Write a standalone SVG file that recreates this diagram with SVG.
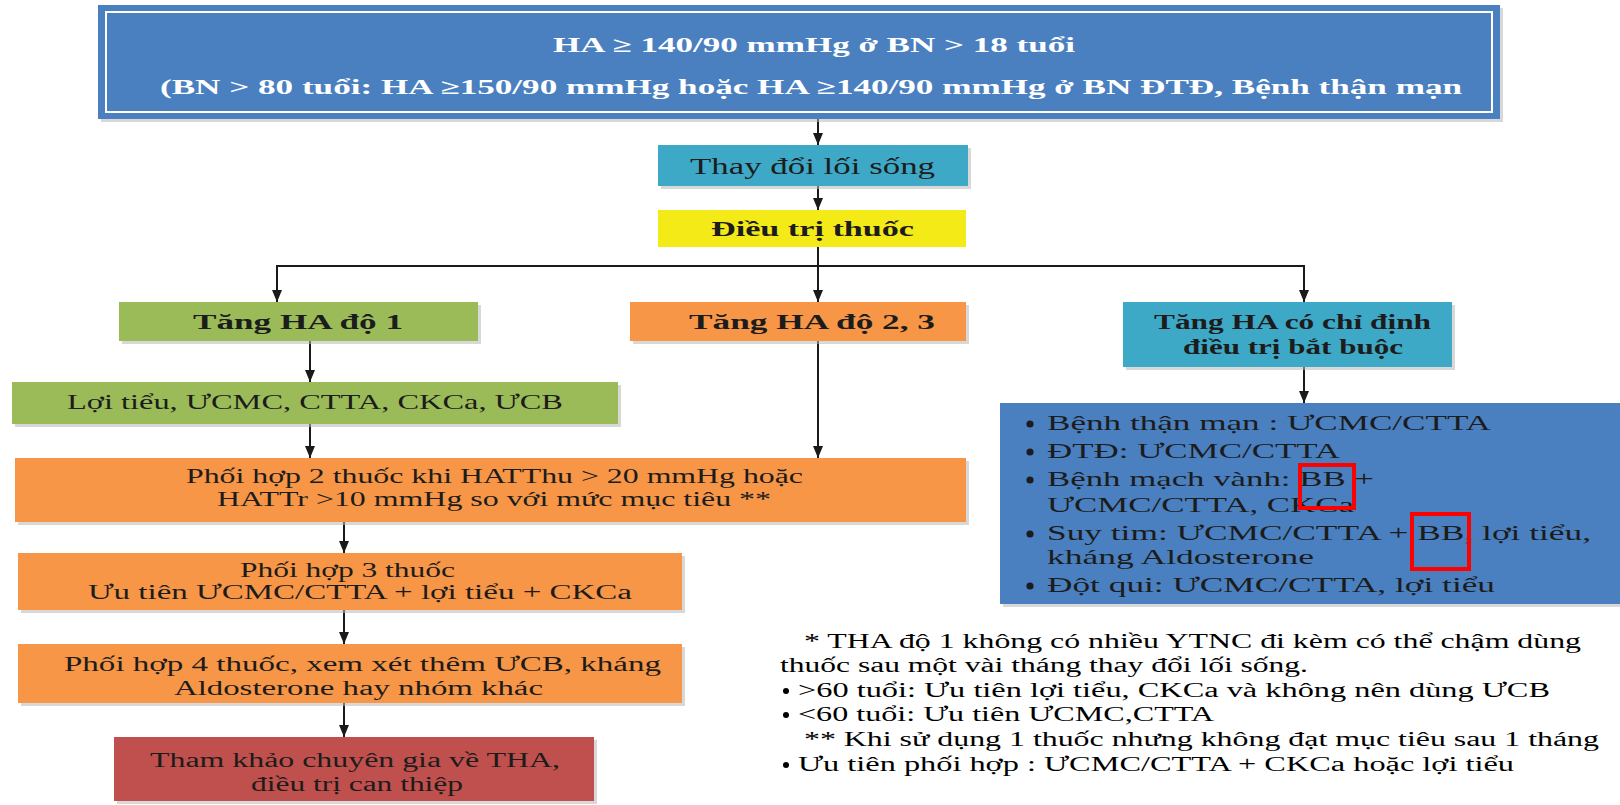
<svg xmlns="http://www.w3.org/2000/svg" width="1620" height="805" viewBox="0 0 1620 805">
<defs>
<marker id="ah" viewBox="0 0 12 10" refX="12" refY="5" markerWidth="12" markerHeight="10" markerUnits="userSpaceOnUse" orient="auto">
<path d="M0,0 L12,5 L0,10 z" fill="#1a1a1a"/>
</marker>
</defs>
<style>
.t{font-family:"Liberation Serif","Times New Roman",serif;}
.b{font-weight:bold;}
.w{fill:#ffffff;}
.d{fill:#1c1c1c;}
.k{fill:#000000;}
.sh{fill:#b8b8b8;opacity:0.55;}
.c{stroke:#1a1a1a;stroke-width:2;fill:none;}
.rb{fill:none;stroke:#ff0000;stroke-width:4;}
.dot{fill:#1c1c1c;}
</style>
<rect width="1620" height="805" fill="#ffffff"/>

<g id="connectors">
<line class="c" x1="818" y1="119" x2="818" y2="145" marker-end="url(#ah)"/>
<line class="c" x1="818" y1="186" x2="818" y2="210" marker-end="url(#ah)"/>
<line class="c" x1="818" y1="247" x2="818" y2="302" marker-end="url(#ah)"/>
<polyline class="c" points="277,302 277,266 1304,266 1304,302" marker-end="url(#ah)"/>
<line class="c" x1="277" y1="266" x2="277" y2="302" marker-end="url(#ah)"/>
<line class="c" x1="310" y1="341" x2="310" y2="382" marker-end="url(#ah)"/>
<line class="c" x1="310" y1="424" x2="310" y2="458" marker-end="url(#ah)"/>
<line class="c" x1="818" y1="341" x2="818" y2="458" marker-end="url(#ah)"/>
<line class="c" x1="344" y1="522" x2="344" y2="553" marker-end="url(#ah)"/>
<line class="c" x1="344" y1="610" x2="344" y2="644" marker-end="url(#ah)"/>
<line class="c" x1="344" y1="703" x2="344" y2="737" marker-end="url(#ah)"/>
<line class="c" x1="1304" y1="367" x2="1304" y2="403" marker-end="url(#ah)"/>
</g>

<g id="n-top">
<rect class="sh" x="101" y="8" width="1402" height="114"/>
<rect x="98" y="5" width="1402" height="114" fill="#4a80c0"/>
<rect x="106" y="12" width="1386" height="100" fill="none" stroke="#ffffff" stroke-width="2"/>
<text class="t b w" x="553" y="52" font-size="21" textLength="522" lengthAdjust="spacingAndGlyphs">HA ≥ 140/90 mmHg ở BN &gt; 18 tuổi</text>
<text class="t b w" x="160" y="94" font-size="21" textLength="1302" lengthAdjust="spacingAndGlyphs">(BN &gt; 80 tuổi: HA ≥150/90 mmHg hoặc HA ≥140/90 mmHg ở BN ĐTĐ, Bệnh thận mạn</text>
</g>

<g id="n-lifestyle">
<rect class="sh" x="661" y="148" width="310" height="41"/>
<rect x="658" y="145" width="310" height="41" fill="#3ea9c6"/>
<text class="t d" x="690" y="174" font-size="24" textLength="245" lengthAdjust="spacingAndGlyphs">Thay đổi lối sống</text>
</g>

<g id="n-drug">
<rect x="658" y="210" width="308" height="37" fill="#f3ea17"/>
<text class="t b d" x="711" y="236" font-size="22" textLength="203" lengthAdjust="spacingAndGlyphs">Điều trị thuốc</text>
</g>

<g id="n-grade1">
<rect class="sh" x="122" y="305" width="359" height="39"/>
<rect x="119" y="302" width="359" height="39" fill="#9bbb59"/>
<text class="t b d" x="193" y="329" font-size="22" textLength="210" lengthAdjust="spacingAndGlyphs">Tăng HA độ 1</text>
</g>

<g id="n-grade23">
<rect class="sh" x="633" y="305" width="336" height="39"/>
<rect x="630" y="302" width="336" height="39" fill="#f79646"/>
<text class="t b d" x="689" y="329" font-size="22" textLength="246" lengthAdjust="spacingAndGlyphs">Tăng HA độ 2, 3</text>
</g>

<g id="n-compelling">
<rect class="sh" x="1126" y="305" width="329" height="65"/>
<rect x="1123" y="302" width="329" height="65" fill="#3ea9c6"/>
<text class="t b d" x="1154" y="329" font-size="22" textLength="277" lengthAdjust="spacingAndGlyphs">Tăng HA có chỉ định</text>
<text class="t b d" x="1183" y="354" font-size="22" textLength="220" lengthAdjust="spacingAndGlyphs">điều trị bắt buộc</text>
</g>

<g id="n-mono">
<rect class="sh" x="15" y="385" width="606" height="42"/>
<rect x="12" y="382" width="606" height="42" fill="#9bbb59"/>
<text class="t d" x="67" y="409" font-size="21" textLength="496" lengthAdjust="spacingAndGlyphs">Lợi tiểu, ƯCMC, CTTA, CKCa, ƯCB</text>
</g>

<g id="n-combo2">
<rect class="sh" x="18" y="461" width="951" height="64"/>
<rect x="15" y="458" width="951" height="64" fill="#f79646"/>
<text class="t d" x="186" y="483" font-size="20" textLength="617" lengthAdjust="spacingAndGlyphs">Phối hợp 2 thuốc khi HATThu &gt; 20 mmHg hoặc</text>
<text class="t d" x="217" y="506" font-size="20" textLength="554" lengthAdjust="spacingAndGlyphs">HATTr &gt;10 mmHg so với mức mục tiêu **</text>
</g>

<g id="n-combo3">
<rect class="sh" x="21" y="556" width="664" height="57"/>
<rect x="18" y="553" width="664" height="57" fill="#f79646"/>
<text class="t d" x="240" y="577" font-size="20" textLength="215" lengthAdjust="spacingAndGlyphs">Phối hợp 3 thuốc</text>
<text class="t d" x="88" y="599" font-size="20" textLength="544" lengthAdjust="spacingAndGlyphs">Ưu tiên ƯCMC/CTTA + lợi tiểu + CKCa</text>
</g>

<g id="n-combo4">
<rect class="sh" x="21" y="647" width="664" height="59"/>
<rect x="18" y="644" width="664" height="59" fill="#f79646"/>
<text class="t d" x="64" y="671" font-size="20" textLength="597" lengthAdjust="spacingAndGlyphs">Phối hợp 4 thuốc, xem xét thêm ƯCB, kháng</text>
<text class="t d" x="174" y="695" font-size="20" textLength="369" lengthAdjust="spacingAndGlyphs">Aldosterone hay nhóm khác</text>
</g>

<g id="n-expert">
<rect class="sh" x="117" y="740" width="480" height="64"/>
<rect x="114" y="737" width="480" height="64" fill="#c0504d"/>
<text class="t d" x="150" y="767" font-size="20" textLength="410" lengthAdjust="spacingAndGlyphs">Tham khảo chuyên gia về THA,</text>
<text class="t d" x="251" y="791" font-size="20" textLength="212" lengthAdjust="spacingAndGlyphs">điều trị can thiệp</text>
</g>

<g id="n-list">
<rect class="sh" x="1003" y="406" width="620" height="201"/>
<rect x="1000" y="403" width="620" height="201" fill="#4a80c0"/>
<circle class="dot" cx="1030" cy="424" r="3.6"/>
<circle class="dot" cx="1030" cy="452" r="3.6"/>
<circle class="dot" cx="1030" cy="480" r="3.6"/>
<circle class="dot" cx="1030" cy="534" r="3.6"/>
<circle class="dot" cx="1030" cy="586" r="3.6"/>
<g class="t d" font-size="22">
<text x="1047" y="430" textLength="444" lengthAdjust="spacingAndGlyphs">Bệnh thận mạn : ƯCMC/CTTA</text>
<text x="1047" y="458" textLength="293" lengthAdjust="spacingAndGlyphs">ĐTĐ: ƯCMC/CTTA</text>
<text x="1047" y="486" textLength="327" lengthAdjust="spacingAndGlyphs">Bệnh mạch vành: BB +</text>
<text x="1047" y="512" textLength="307" lengthAdjust="spacingAndGlyphs">ƯCMC/CTTA, CKCa</text>
<text x="1047" y="540" textLength="544" lengthAdjust="spacingAndGlyphs">Suy tim: ƯCMC/CTTA + BB, lợi tiểu,</text>
<text x="1047" y="564" textLength="267" lengthAdjust="spacingAndGlyphs">kháng Aldosterone</text>
<text x="1047" y="592" textLength="448" lengthAdjust="spacingAndGlyphs">Đột qui: ƯCMC/CTTA, lợi tiểu</text>
</g>
<rect class="rb" x="1300" y="465" width="54" height="43"/>
<rect class="rb" x="1412" y="514" width="57" height="55"/>
</g>

<g id="notes" class="t k" font-size="20">
<circle cx="786" cy="691" r="3" fill="#000"/>
<circle cx="786" cy="715" r="3" fill="#000"/>
<circle cx="786" cy="765" r="3" fill="#000"/>
<text x="804" y="648" textLength="777" lengthAdjust="spacingAndGlyphs">* THA độ 1 không có nhiều YTNC đi kèm có thể chậm dùng</text>
<text x="780" y="672" textLength="528" lengthAdjust="spacingAndGlyphs">thuốc sau một vài tháng thay đổi lối sống.</text>
<text x="798" y="697" textLength="752" lengthAdjust="spacingAndGlyphs">&gt;60 tuổi: Ưu tiên lợi tiểu, CKCa và không nên dùng ƯCB</text>
<text x="798" y="721" textLength="416" lengthAdjust="spacingAndGlyphs">&lt;60 tuổi: Ưu tiên ƯCMC,CTTA</text>
<text x="804" y="746" textLength="795" lengthAdjust="spacingAndGlyphs">** Khi sử dụng 1 thuốc nhưng không đạt mục tiêu sau 1 tháng</text>
<text x="798" y="771" textLength="716" lengthAdjust="spacingAndGlyphs">Ưu tiên phối hợp : ƯCMC/CTTA + CKCa hoặc lợi tiểu</text>
</g>
</svg>
